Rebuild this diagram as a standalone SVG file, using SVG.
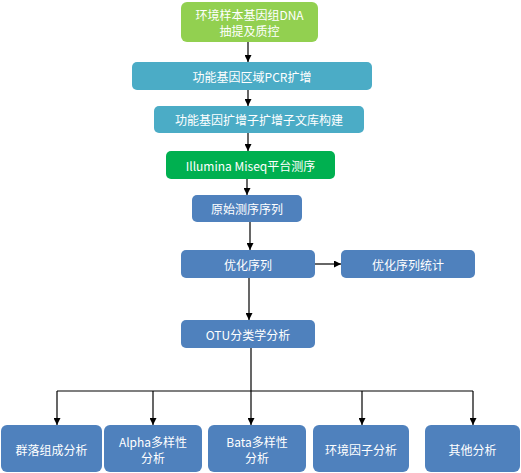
<svg xmlns="http://www.w3.org/2000/svg" width="521" height="473" viewBox="0 0 521 473">
<style>
text{font-family:"Noto Sans CJK SC","Noto Sans",sans-serif;font-size:12px;fill:#fff;text-anchor:middle;dominant-baseline:central}
.lg{fill:#92D050}.gr{fill:#00B050}.cy{fill:#4BACC6}.bl{fill:#4F81BD}
.c{stroke:#000;stroke-width:1.2;fill:none}
</style>
<defs>
<marker id="ah" viewBox="0 0 8 8" refX="8" refY="4" markerWidth="7" markerHeight="7" markerUnits="userSpaceOnUse" orient="auto"><path d="M0,0L8,4L0,8z" fill="#000"/></marker>
</defs>
<rect width="521" height="473" fill="#fff"/>
<g id="connectors">
<line class="c" x1="248" y1="42" x2="248" y2="62" marker-end="url(#ah)"/>
<line class="c" x1="248" y1="90" x2="248" y2="106" marker-end="url(#ah)"/>
<line class="c" x1="248" y1="133" x2="248" y2="151" marker-end="url(#ah)"/>
<line class="c" x1="247" y1="179" x2="247" y2="195" marker-end="url(#ah)"/>
<line class="c" x1="250" y1="222" x2="250" y2="250" stroke-width="2" marker-end="url(#ah)"/>
<line class="c" x1="315" y1="264" x2="341" y2="264" marker-end="url(#ah)"/>
<line class="c" x1="249" y1="278" x2="249" y2="320" marker-end="url(#ah)"/>
<line class="c" x1="251" y1="348" x2="251" y2="391"/>
<line class="c" x1="57" y1="391" x2="473" y2="391"/>
<line class="c" x1="57" y1="391" x2="57" y2="425" marker-end="url(#ah)"/>
<line class="c" x1="153" y1="391" x2="153" y2="425" marker-end="url(#ah)"/>
<line class="c" x1="251" y1="391" x2="251" y2="425" stroke-width="2" marker-end="url(#ah)"/>
<line class="c" x1="362" y1="391" x2="362" y2="425" marker-end="url(#ah)"/>
<line class="c" x1="473" y1="391" x2="473" y2="425" marker-end="url(#ah)"/>
</g>
<g id="n1"><rect class="lg" x="181" y="2" width="137" height="40" rx="6"/><text x="249.5" y="14">环境样本基因组DNA</text><text x="249.5" y="30">抽提及质控</text></g>
<g id="n2"><rect class="cy" x="132" y="62" width="240" height="28" rx="5"/><text x="252" y="76">功能基因区域PCR扩增</text></g>
<g id="n3"><rect class="cy" x="154" y="106" width="210" height="27" rx="5"/><text x="259" y="119.5">功能基因扩增子扩增子文库构建</text></g>
<g id="n4"><rect class="gr" x="166" y="151" width="169" height="28" rx="5"/><text x="250.5" y="165">Illumina Miseq平台测序</text></g>
<g id="n5"><rect class="bl" x="192" y="195" width="110" height="27" rx="5"/><text x="247" y="208.5">原始测序序列</text></g>
<g id="n6"><rect class="bl" x="181" y="250" width="134" height="28" rx="5"/><text x="248" y="264">优化序列</text></g>
<g id="n7"><rect class="bl" x="341" y="250" width="134" height="28" rx="5"/><text x="408" y="264">优化序列统计</text></g>
<g id="n8"><rect class="bl" x="181" y="320" width="134" height="28" rx="5"/><text x="248" y="334">OTU分类学分析</text></g>
<g id="b1"><rect class="bl" x="1" y="425" width="101" height="47" rx="6"/><text x="51.5" y="449">群落组成分析</text></g>
<g id="b2"><rect class="bl" x="104" y="425" width="98" height="47" rx="6"/><text x="153" y="441">Alpha多样性</text><text x="153" y="457">分析</text></g>
<g id="b3"><rect class="bl" x="208" y="425" width="98" height="47" rx="6"/><text x="257" y="441">Bata多样性</text><text x="257" y="457">分析</text></g>
<g id="b4"><rect class="bl" x="313" y="425" width="96" height="47" rx="6"/><text x="361" y="449">环境因子分析</text></g>
<g id="b5"><rect class="bl" x="425" y="425" width="95" height="47" rx="6"/><text x="472.5" y="449">其他分析</text></g>
</svg>
